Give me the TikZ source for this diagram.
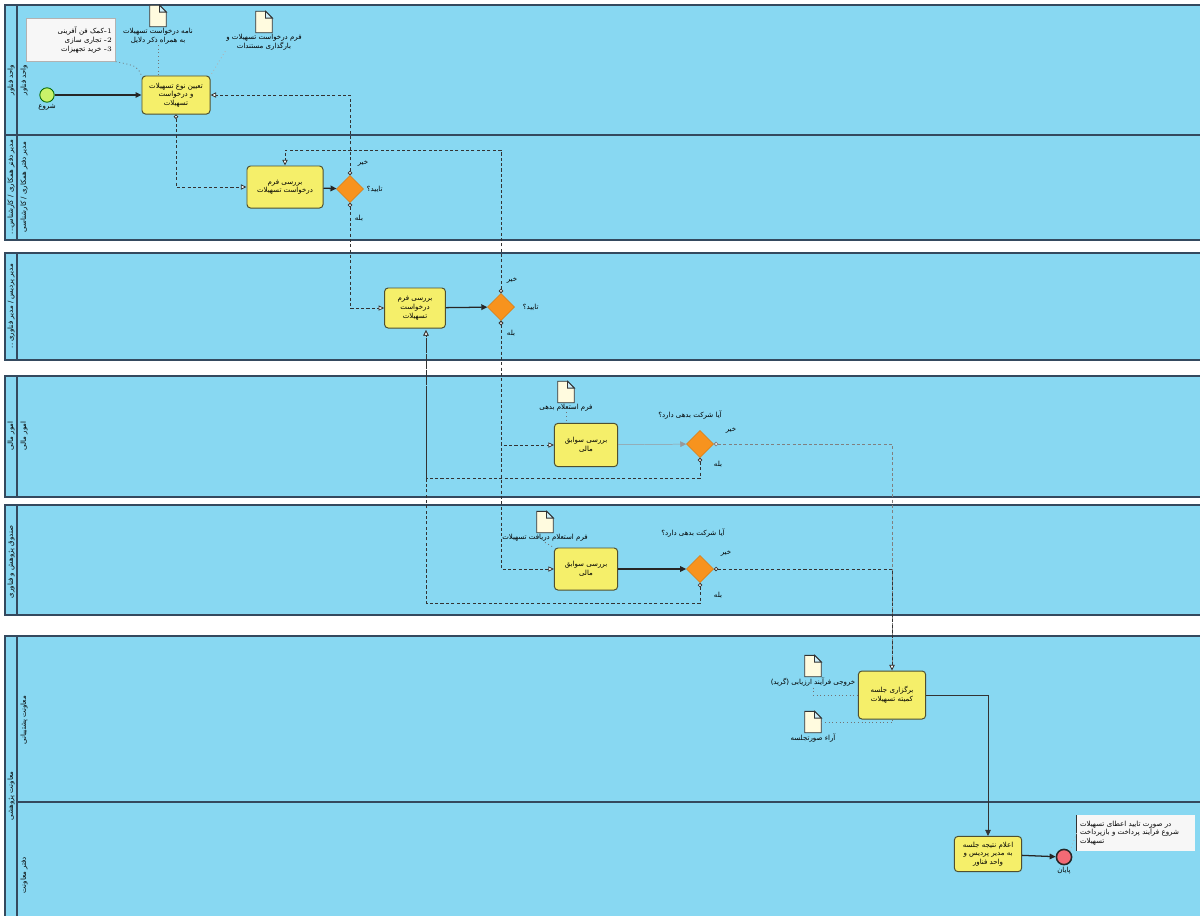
\documentclass[tikz,border=0pt]{standalone}
\usepackage{fontspec}
\usepackage{xcolor}
\usepackage{tikz}
\usetikzlibrary{positioning,arrows.meta,shapes.geometric}
\newfontfamily\farsi[Script=Arabic]{DejaVu Sans}
\TeXXeTstate=1
\newcommand{\fa}[1]{\beginR #1\endR}
\definecolor{laneblue}{HTML}{88D8F2}
\definecolor{laneline}{HTML}{34495E}
\definecolor{taskfill}{HTML}{F5EF6A}
\definecolor{taskline}{HTML}{4F5030}
\definecolor{gwfill}{HTML}{F7931E}
\definecolor{gwline}{HTML}{D97A10}
\definecolor{startfill}{HTML}{C9F26A}
\definecolor{endfill}{HTML}{F26A75}
\definecolor{docfill}{HTML}{FFFBDF}

\begin{document}
\begin{tikzpicture}[
  x=0.025cm, y=-0.025cm,
  font={\farsi\fontsize{5}{6.2}\selectfont},
  pool/.style={draw=laneline, line width=0.9pt},
  lanelbl/.style={rotate=90, align=center, inner sep=0pt},
  task/.style={draw=taskline, fill=taskfill, rounded corners=2.5pt, line width=0.7pt, align=center, inner sep=1pt},
  gw/.style={diamond, draw=gwline, fill=gwfill, minimum width=0.68cm, minimum height=0.68cm, inner sep=0pt},
  startev/.style={circle, draw=black!60!green, fill=startfill, minimum size=0.36cm, inner sep=0pt, line width=0.6pt},
  endev/.style={circle, draw=black!85, fill=endfill, minimum size=0.38cm, inner sep=0pt, line width=1.1pt},
  doc/.style={minimum width=0.4cm, minimum height=0.52cm, inner sep=0pt},
  docline/.style={draw=black!80, fill=docfill, line width=0.6pt},
  lbl/.style={align=center, inner sep=0.5pt},
  note/.style={fill=gray!6, inner sep=2pt},
  seq/.style={-{Triangle[length=1.5mm,width=1.4mm]}, line width=0.9pt, black!85},
  seqthin/.style={-{Triangle[length=1.5mm,width=1.4mm]}, line width=0.35pt, black!80},
  msg/.style={{Circle[open,length=1.1mm,fill=white]}-{Triangle[open,length=1.4mm,width=1.3mm,fill=white]}, dash pattern=on 2.2pt off 1.6pt, line width=0.55pt, black!80},
  assoc/.style={dotted, line width=0.6pt, black!55},
]
\path[use as bounding box] (0,0) rectangle (1200,915);
\fill[white] (0,0) rectangle (1200,915);
\clip (0,0) rectangle (1200,915);
% pools and lanes
\foreach \t/\b in {5/240,253/360,376/497,505/615,636/960}{
  \filldraw[pool, fill=laneblue] (5,\t) rectangle (1215,\b);
  \draw[pool] (17,\t) -- (17,\b);
}
\draw[pool] (5,135) -- (1215,135);
\draw[pool] (17,802) -- (1215,802);
% lane labels
\node[lanelbl] (p1) at (11,80) {\fa{واحد فناور}};
\node[lanelbl] (l1) at (24,80) {\fa{واحد فناور}};
\node[lanelbl] (p2) at (11,187) {\fa{مدیر دفتر همکاری / کارشناس...}};
\node[lanelbl] (l2) at (24,187) {\fa{مدیر دفتر همکاری / کارشناسی}};
\node[lanelbl] (p3) at (11,306) {\fa{مدیر پردیس / مدیر فناوری ..}};
\node[lanelbl] (p4) at (11,436) {\fa{امور مالی}};
\node[lanelbl] (l4) at (24,436) {\fa{امور مالی}};
\node[lanelbl] (p5) at (11,562) {\fa{صندوق پژوهش و فناوری}};
\node[lanelbl] (p6) at (11,796) {\fa{معاونت پژوهشی}};
\node[lanelbl] (l6a) at (24,720) {\fa{معاونت پشتیبانی}};
\node[lanelbl] (l6b) at (24,875) {\fa{دفتر معاونت}};
% first lane
\node[startev] (start) at (47,95) {};
\node[lbl, below=0.5pt of start] (startlbl) {\fa{شروع}};
\node[note, draw=gray!60, minimum width=2.22cm, minimum height=1.07cm, text width=2.05cm, align=right] (goal) at (71,40)
  {\fa{کمک فن آفرینی}{\rmfamily-1}\\\fa{تجاری سازی} {\rmfamily-2}\\\fa{خرید تجهیزات} {\rmfamily-3}};
\node[task, minimum width=1.7cm, minimum height=0.95cm] (req) at (176,95)
  {\fa{تعیین نوع تسهیلات}\\\fa{و درخواست}\\\fa{تسهیلات}};
\node[doc] (dReq) at (158,16) {};
\node[lbl, below=0.5pt of dReq] (dReqlbl) {\fa{نامه درخواست تسهیلات}\\\fa{به همراه ذکر دلایل}};
\node[doc] (dForm) at (264,22) {};
\node[lbl, below=0.5pt of dForm] (dFormlbl) {\fa{فرم درخواست تسهیلات و}\\\fa{بارگذاری مستندات}};
% second lane
\node[task, minimum width=1.9cm, minimum height=1.05cm] (chk1) at (285,187)
  {\fa{بررسی فرم}\\\fa{درخواست تسهیلات}};
\node[gw] (gw1) at (350,189) {};
\node[lbl, right=1.5pt of gw1] (gw1q) {\fa{تایید؟}};
\node[lbl] (gw1n) at (363,163) {\fa{خیر}};
\node[lbl] (gw1y) at (359,218) {\fa{بله}};
% third lane
\node[task, minimum width=1.52cm, minimum height=1.0cm] (chk2) at (415,308)
  {\fa{بررسی فرم}\\\fa{درخواست}\\\fa{تسهیلات}};
\node[gw] (gw2) at (501,307) {};
\node[lbl, right=5pt of gw2] (gw2q) {\fa{تایید؟}};
\node[lbl] (gw2n) at (512,280) {\fa{خیر}};
\node[lbl] (gw2y) at (511,333) {\fa{بله}};
% finance
\node[doc] (dDebt) at (566,392) {};
\node[lbl, below=0.5pt of dDebt] (dDebtlbl) {\fa{فرم استعلام بدهی}};
\node[task, minimum width=1.58cm, minimum height=1.08cm] (fin1) at (586,445)
  {\fa{بررسی سوابق}\\\fa{مالی}};
\node[gw] (gw3) at (700,444) {};
\node[lbl] (gw3q) at (690,415) {\fa{آیا شرکت بدهی دارد؟}};
\node[lbl] (gw3n) at (731,430) {\fa{خیر}};
\node[lbl] (gw3y) at (718,464) {\fa{بله}};
% fund
\node[doc] (dLoan) at (545,522) {};
\node[lbl, below=0.5pt of dLoan] (dLoanlbl) {\fa{فرم استعلام دریافت تسهیلات}};
\node[task, minimum width=1.58cm, minimum height=1.05cm] (fin2) at (586,569)
  {\fa{بررسی سوابق}\\\fa{مالی}};
\node[gw] (gw4) at (700,569) {};
\node[lbl] (gw4q) at (693,533) {\fa{آیا شرکت بدهی دارد؟}};
\node[lbl] (gw4n) at (726,553) {\fa{خیر}};
\node[lbl] (gw4y) at (718,595) {\fa{بله}};
% committee
\node[task, minimum width=1.68cm, minimum height=1.2cm] (meet) at (892,695)
  {\fa{برگزاری جلسه}\\\fa{کمیته تسهیلات}};
\node[doc] (dGrade) at (813,666) {};
\node[lbl, below=0.5pt of dGrade] (dGradelbl) {\fa{خروجی فرآیند ارزیابی (گرید)}};
\node[doc] (dVote) at (813,722) {};
\node[lbl, below=0.5pt of dVote] (dVotelbl) {\fa{آراء صورتجلسه}};
\node[task, minimum width=1.68cm, minimum height=0.88cm] (ann) at (988,854)
  {\fa{اعلام نتیجه جلسه}\\\fa{به مدیر پردیس و}\\\fa{واحد فناور}};
\node[endev] (finish) at (1064,857) {};
\node[lbl, below=0.5pt of finish] (finishlbl) {\fa{پایان}};
\node[note, minimum width=2.95cm, minimum height=0.88cm, text width=2.8cm, align=left] (ntEnd) at (1136,833)
  {\fa{در صورت تایید اعطای تسهیلات}\\\fa{شروع فرآیند پرداخت و بازپرداخت}\\\fa{تسهیلات}};
\draw[black!80, line width=0.8pt] (ntEnd.north west) -- (ntEnd.south west);
% document pages
\foreach \d in {dReq,dForm,dDebt,dLoan,dGrade,dVote}{
  \filldraw[docline] (\d.south west) -- (\d.north west) -- ([xshift=-1.7mm]\d.north east)
    -- ([yshift=-1.7mm]\d.north east) -- (\d.south east) -- cycle;
  \filldraw[docline, fill=laneblue!40] ([xshift=-1.7mm]\d.north east) -- ([xshift=-1.7mm,yshift=-1.7mm]\d.north east)
    -- ([yshift=-1.7mm]\d.north east) -- cycle;
}
% associations
\draw[assoc] (goal.south east) .. controls (137,66) .. (req.north west);
\draw[assoc] (dReqlbl.south) -- (dReqlbl.south |- req.north);
\draw[assoc, black!30] (dFormlbl.south west) -- (req.north east);
\draw[assoc] (dDebtlbl.south) -- (dDebtlbl.south |- fin1.north);
\draw[assoc] (dLoanlbl.south) -- (fin2.north west);
\draw[assoc] (dGradelbl.south) |- (meet.west);
\draw[assoc] (dVote.east) -| (meet.south);
\draw[assoc, black!30] (finish.north east) -- (ntEnd.west);
% sequence flows
\draw[seq] (start) -- (start -| req.west);
\draw[seq] (chk1) -- (gw1);
\draw[seq] (chk2) -- (gw2);
\draw[seqthin, black!40] (fin1) -- (gw3);
\draw[seq] (fin2) -- (gw4);
\draw[seqthin] (meet.east) -| (ann.north);
\draw[seq] (ann) -- (finish);
% message flows
\coordinate (ret2) at (501,150);
\coordinate (back3) at (700,478);
\coordinate (back4) at (700,603);
\coordinate (chk2in) at (426,330);
\draw[msg] (req.south) |- (chk1.west);
\draw[msg] (gw1.north) |- (req.east);
\draw[msg] (gw1.south) |- (chk2.west);
\draw[msg] (gw2.north) -- (ret2) -| (chk1.north);
\draw[msg] (gw2.south) |- (fin1.west);
\draw[msg] (gw2.south) |- (fin2.west);
\draw[msg, black!50] (gw3.east) -| (meet.north);
\draw[msg] (gw4.east) -| (meet.north);
\draw[msg] (gw3.south) -- (back3) -| (chk2in);
\draw[msg] (gw4.south) -- (back4) -| (chk2in);
\end{tikzpicture}
\end{document}
